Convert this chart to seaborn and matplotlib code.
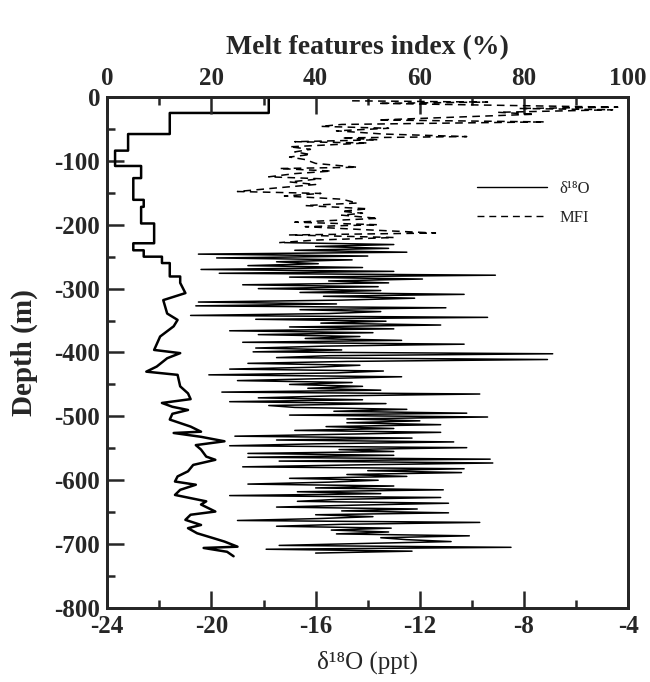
import numpy as np
import matplotlib
matplotlib.use("Agg")
import matplotlib.pyplot as plt
import seaborn as sns
from matplotlib.lines import Line2D
from matplotlib.ticker import MultipleLocator

# stepped profile (bottom axis, delta 18O in ppt)
stair_depth = [0, -25, -25, -58, -58, -84, -84, -108, -108, -127,
               -127, -161, -161, -172, -172, -198, -198, -229, -229, -240,
               -240, -250, -250, -260, -260, -281, -281, -291, -307, -318,
               -339, -349, -359, -375, -396, -401, -409, -422, -430, -435,
               -453, -464, -473, -479, -485, -490, -496, -505, -516, -524,
               -526, -532, -539, -545, -552, -563, -568, -576, -586, -594,
               -602, -607, -615, -623, -628, -633, -638, -649, -654, -662,
               -670, -675, -683, -691, -696, -704, -706, -712, -719]
stair_d18o = [-17.8, -17.8, -21.6, -21.6, -23.2, -23.2, -23.7, -23.7, -22.7, -22.7,
              -23.0, -23.0, -22.6, -22.6, -22.7, -22.7, -22.2, -22.2, -23.0, -23.0,
              -22.6, -22.6, -21.9, -21.9, -21.6, -21.6, -21.2, -21.2, -21.0, -21.85,
              -21.7, -21.3, -21.45, -21.97, -22.2, -21.2, -21.7, -22.1, -22.5, -21.3,
              -21.2, -20.9, -20.8, -21.9, -21.5, -20.9, -21.5, -21.6, -20.8, -20.4,
              -21.45, -20.4, -19.5, -20.6, -20.4, -20.2, -19.85, -20.7, -20.9, -21.3,
              -21.4, -20.6, -21.2, -21.4, -20.8, -20.2, -20.4, -19.85, -20.8, -21.0,
              -20.4, -20.9, -20.55, -19.9, -19.5, -19.0, -20.3, -19.4, -19.15]

# melt features index, upper part (top axis, %)
mfi_depth = [-6, -8, -10, -13, -16, -18, -20, -24, -27, -36,
             -39, -43, -46, -49, -53, -58, -62, -64, -67, -70,
             -72, -78, -82, -86, -90, -94, -98, -104, -110, -112,
             -116, -120, -125, -128, -133, -137, -142, -148, -151, -155,
             -160, -166, -170, -175, -179, -182, -185, -190, -196, -200,
             -203, -208, -213, -216, -220, -224, -228]
mfi_pct = [47, 73, 52, 75, 98, 79, 97, 75, 82, 52,
           84, 45, 41, 54, 44, 53, 69, 45, 52, 36,
           50, 35, 39, 36, 39, 35, 38, 40, 48, 33,
           43, 36, 31, 41, 35, 40, 33, 25, 41, 34,
           45, 48, 38, 50, 45, 49, 45, 52, 36, 52,
           38, 50, 63, 35, 55, 40, 33]

# high resolution record below ~230 m, sampled every 3 m (bottom axis, ppt)
hr_depth = np.arange(-228, -715, -3)
hr_d18o = [-17.2, -13.0, -16.0, -13.2, -16.8, -12.5, -20.5, -14.0, -19.8, -14.6,
           -17.5, -15.9, -18.6, -14.2, -20.4, -13.0, -19.7, -9.1, -17.0, -11.9,
           -15.5, -13.2, -18.8, -13.6, -18.2, -13.5, -16.6, -10.3, -15.7, -12.2,
           -15.0, -20.5, -15.2, -20.6, -11.0, -16.6, -13.5, -15.5, -20.8, -9.4,
           -18.3, -13.3, -15.8, -11.2, -17.0, -13.0, -19.3, -13.8, -18.2, -14.3,
           -16.4, -12.7, -18.8, -10.3, -15.6, -18.3, -15.0, -18.4, -6.9, -15.5,
           -17.5, -7.1, -14.8, -18.6, -14.3, -16.0, -19.3, -13.4, -15.2, -20.1,
           -12.7, -15.8, -19.0, -14.6, -17.0, -14.2, -16.3, -13.5, -19.6, -9.7,
           -15.4, -18.2, -14.2, -19.3, -13.3, -17.8, -16.8, -12.5, -15.3, -10.2,
           -17.0, -9.4, -14.8, -12.0, -14.8, -11.2, -15.6, -13.0, -16.8, -11.2,
           -15.0, -19.1, -12.3, -17.5, -10.7, -16.0, -19.3, -10.2, -15.1, -13.0,
           -18.6, -13.0, -18.6, -9.3, -17.4, -9.2, -14.5, -18.8, -10.3, -14.0,
           -10.4, -14.8, -12.5, -17.0, -13.6, -15.5, -18.6, -13.0, -16.0, -11.1,
           -16.7, -13.5, -19.3, -11.2, -15.2, -16.7, -10.9, -14.5, -17.5, -12.1,
           -15.0, -10.9, -16.0, -13.8, -15.9, -19.0, -9.7, -15.0, -17.5, -13.1,
           -15.4, -13.2, -15.2, -10.1, -13.5, -12.5, -10.8, -14.2, -17.4, -8.5,
           -17.9, -12.3, -16.0]

sns.set_style("ticks")
plt.rcParams["font.family"] = ["Liberation Serif", "DejaVu Serif"]
plt.rcParams["axes.unicode_minus"] = False
plt.rcParams["axes.linewidth"] = 2

fig = plt.figure(figsize=(6.5, 6.82), dpi=100)
ax = fig.add_axes([0.165, 0.1085, 0.8015, 0.7493])

sns.lineplot(x=stair_d18o, y=stair_depth, sort=False, estimator=None,
             color="black", lw=1.8, ax=ax)
sns.lineplot(x=hr_d18o, y=hr_depth, sort=False, estimator=None,
             color="black", lw=1.1, ax=ax)

ax2 = ax.twiny()
sns.lineplot(x=mfi_pct, y=mfi_depth, sort=False, estimator=None,
             color="black", lw=1.1, ax=ax2)
ax2.lines[-1].set_linestyle((0, (5, 3.5)))

ax.set_xlim(-24, -4)
ax.set_ylim(-800, 0)
ax2.set_xlim(0, 100)
ax.xaxis.set_major_locator(MultipleLocator(4))
ax.xaxis.set_minor_locator(MultipleLocator(2))
ax.yaxis.set_major_locator(MultipleLocator(100))
ax.yaxis.set_minor_locator(MultipleLocator(50))
ax2.xaxis.set_major_locator(MultipleLocator(20))
ax2.xaxis.set_minor_locator(MultipleLocator(10))

for a in (ax, ax2):
    a.tick_params(which="both", direction="in", width=1.8, labelsize=18, pad=5)
    a.tick_params(which="major", length=12)
    a.tick_params(which="minor", length=6)
    for s in a.spines.values():
        s.set_linewidth(2)
    for lbl in a.get_xticklabels() + a.get_yticklabels():
        lbl.set_fontweight("bold")
ax.tick_params(which="both", top=False, right=False)

ax.set_xlabel("δ¹⁸O (ppt)", fontsize=18, labelpad=9)
ax.set_ylabel("Depth (m)", fontsize=21, fontweight="bold", labelpad=12)
ax2.set_xlabel("Melt features index (%)", fontsize=20, fontweight="bold",
               labelpad=9)
ax2.set_ylabel("")

handles = [Line2D([], [], color="black", lw=1.0),
           Line2D([], [], color="black", lw=1.0, linestyle=(0, (5, 3.5)))]
ax2.legend(handles, ["δ¹⁸O", "MFI"], loc="upper left",
           bbox_to_anchor=(0.68, 0.865), frameon=False, handlelength=4.2,
           labelspacing=0.8, prop={"size": 12})

fig.savefig("out.png", dpi=100)
